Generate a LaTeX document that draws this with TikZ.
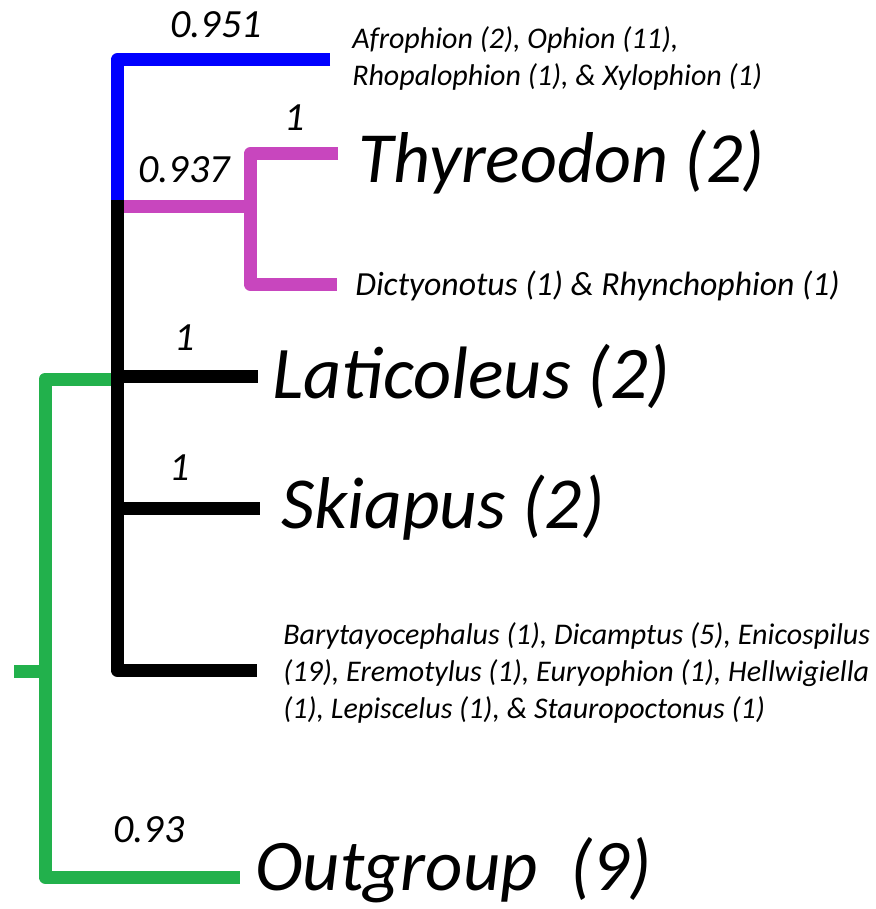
\documentclass[tikz,border=0pt]{standalone}
\usepackage{fontspec}
\setmainfont{Carlito}
\usepackage{tikz}
\usetikzlibrary{calc}
\definecolor{treeblue}{RGB}{0,0,255}
\definecolor{treemagenta}{RGB}{200,70,190}
\definecolor{treegreen}{RGB}{34,177,76}
\tikzset{
  branch/.style={line width=9.75pt, line cap=butt, line join=round},
  blueline/.style={branch, draw=treeblue},
  magline/.style={branch, draw=treemagenta},
  greenline/.style={branch, draw=treegreen},
  blackline/.style={branch, draw=black},
  taxon/.style={anchor=base west, inner sep=0pt, font=\fontsize{55}{60}\selectfont\itshape},
  taxa/.style={anchor=base west, inner sep=0pt, align=left,
               font=\fontsize{22.5}{27.75}\selectfont\itshape},
  support/.style={anchor=base, inner sep=0pt, font=\fontsize{30}{34}\selectfont\itshape},
}

\begin{document}
\begin{tikzpicture}[x=0.75pt,y=-0.75pt]
  \path[use as bounding box] (0,0) rectangle (875,909);

  % tree nodes and tips
  \coordinate (rootstub) at (14,671);
  \coordinate (rootnode) at (45,671);
  \coordinate (ingroup) at (117,379);
  \coordinate (spinetop) at (117,200);
  \coordinate (magbase) at (117,207);
  \coordinate (magnode) at (250,207);
  \coordinate (bluetip) at (330,60);
  \coordinate (thytip) at (338,154);
  \coordinate (dictip) at (337,284);
  \coordinate (latitip) at (258,376);
  \coordinate (skiatip) at (260,508);
  \coordinate (barytip) at (257,670);
  \coordinate (outtip) at (240,877);

  % branches
  \draw[greenline] (rootstub) -- (rootnode);
  \draw[greenline] (ingroup) -| (rootnode) |- (outtip);
  \draw[blueline] (bluetip) -| (spinetop);
  \draw[magline] (magbase) -- (magnode);
  \draw[magline] (thytip) -| (magnode) |- (dictip);
  \draw[blackline] (spinetop) |- (barytip);
  \foreach \tip in {latitip,skiatip}
    \draw[blackline] (spinetop |- \tip) -- (\tip);

  % taxon labels (base = last line)
  \node[taxa] (afro) at (352,86)
    {Afrophion (2), Ophion (11),\\Rhopalophion (1), \& Xylophion (1)};
  \node[taxon, font=\fontsize{54}{60}\selectfont\itshape] (thyr) at (358,183) {Thyreodon (2)};
  \node[taxa, font=\fontsize{25.3}{30}\selectfont\itshape] (dicty) at (355,295)
    {Dictyonotus (1) \& Rhynchophion (1)};
  \node[taxon, font=\fontsize{55.7}{60}\selectfont\itshape] (lati) at (272,398) {Laticoleus (2)};
  \node[taxon] (skia) at (281,528) {Skiapus (2)};
  \node[taxa] (bary) at (283,718)
    {Barytayocephalus (1), Dicamptus (5), Enicospilus\\(19), Eremotylus (1), Euryophion (1), Hellwigiella\\(1), Lepiscelus (1), \& Stauropoctonus (1)};
  \node[taxon, font=\fontsize{54.5}{60}\selectfont\itshape] (outg) at (255,890) {Outgroup\ \ (9)};

  % support values
  \node[support] (s951) at (216,38) {0.951};
  \node[support] (s937) at (184,183) {0.937};
  \node[support] (sthyr) at (295,131) {1};
  \node[support] (slati) at (185,350) {1};
  \node[support] (sskia) at (180,480) {1};
  \node[support] (s93) at (149,842) {0.93};
\end{tikzpicture}
\end{document}
